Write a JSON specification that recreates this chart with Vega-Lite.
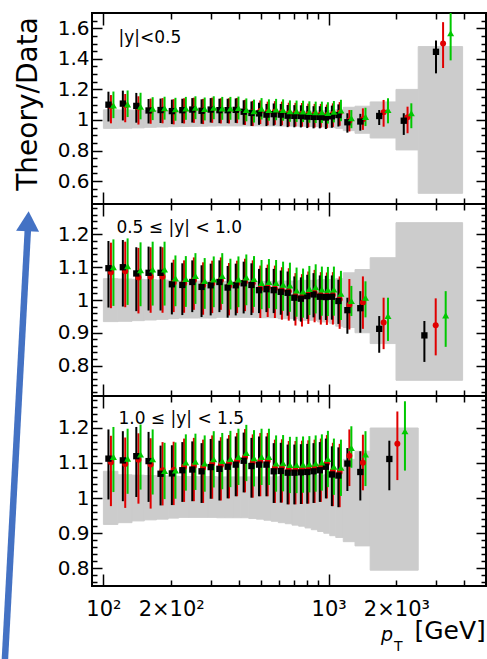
{
"$schema": "https://vega.github.io/schema/vega-lite/v6.json",
"background": "white",
"padding": {"left": 0, "top": 11, "right": 0, "bottom": 0},
"spacing": 0,
"bounds": "flush",
"resolve": {"scale": {"x": "independent", "y": "independent"}},
"config": {
  "view": {"stroke": "black", "strokeWidth": 2},
  "axis": {"domain": false, "grid": false, "tickColor": "black", "tickWidth": 1.5, "labelColor": "black", "labelFont": "DejaVu Sans", "labelFontSize": 20, "labelOverlap": false, "labelFlush": false, "labelBound": false, "zindex": 1},
  "text": {"font": "DejaVu Sans", "color": "black"}
},
"datasets": {
"bands": [
{"p":1,"lo":100,"hi":116,"bl":0.945,"bh":1.066},{"p":1,"lo":116,"hi":134,"bl":0.946,"bh":1.065},{"p":1,"lo":134,"hi":152,"bl":0.948,"bh":1.064},{"p":1,"lo":152,"hi":172,"bl":0.952,"bh":1.062},{"p":1,"lo":172,"hi":194,"bl":0.954,"bh":1.061},{"p":1,"lo":194,"hi":216,"bl":0.956,"bh":1.060},{"p":1,"lo":216,"hi":240,"bl":0.957,"bh":1.060},{"p":1,"lo":240,"hi":264,"bl":0.958,"bh":1.059},{"p":1,"lo":264,"hi":290,"bl":0.959,"bh":1.058},{"p":1,"lo":290,"hi":318,"bl":0.960,"bh":1.058},{"p":1,"lo":318,"hi":346,"bl":0.961,"bh":1.057},{"p":1,"lo":346,"hi":376,"bl":0.961,"bh":1.057},{"p":1,"lo":376,"hi":408,"bl":0.961,"bh":1.057},{"p":1,"lo":408,"hi":442,"bl":0.961,"bh":1.057},{"p":1,"lo":442,"hi":478,"bl":0.961,"bh":1.057},{"p":1,"lo":478,"hi":516,"bl":0.961,"bh":1.057},{"p":1,"lo":516,"hi":556,"bl":0.961,"bh":1.057},{"p":1,"lo":556,"hi":598,"bl":0.961,"bh":1.057},{"p":1,"lo":598,"hi":642,"bl":0.960,"bh":1.057},{"p":1,"lo":642,"hi":688,"bl":0.960,"bh":1.057},{"p":1,"lo":688,"hi":736,"bl":0.960,"bh":1.057},{"p":1,"lo":736,"hi":786,"bl":0.959,"bh":1.057},{"p":1,"lo":786,"hi":838,"bl":0.958,"bh":1.058},{"p":1,"lo":838,"hi":894,"bl":0.957,"bh":1.058},{"p":1,"lo":894,"hi":952,"bl":0.955,"bh":1.060},{"p":1,"lo":952,"hi":1012,"bl":0.953,"bh":1.061},{"p":1,"lo":1012,"hi":1076,"bl":0.950,"bh":1.063},{"p":1,"lo":1076,"hi":1162,"bl":0.945,"bh":1.067},{"p":1,"lo":1162,"hi":1310,"bl":0.930,"bh":1.083},{"p":1,"lo":1310,"hi":1530,"bl":0.913,"bh":1.090},{"p":1,"lo":1530,"hi":1992,"bl":0.882,"bh":1.118},{"p":1,"lo":1992,"hi":2500,"bl":0.804,"bh":1.200},{"p":1,"lo":2500,"hi":3937,"bl":0.520,"bh":1.480},
{"p":2,"lo":100,"hi":116,"bl":0.934,"bh":1.065},{"p":2,"lo":116,"hi":134,"bl":0.935,"bh":1.064},{"p":2,"lo":134,"hi":152,"bl":0.937,"bh":1.063},{"p":2,"lo":152,"hi":172,"bl":0.939,"bh":1.062},{"p":2,"lo":172,"hi":194,"bl":0.941,"bh":1.061},{"p":2,"lo":194,"hi":216,"bl":0.943,"bh":1.060},{"p":2,"lo":216,"hi":240,"bl":0.945,"bh":1.058},{"p":2,"lo":240,"hi":264,"bl":0.945,"bh":1.058},{"p":2,"lo":264,"hi":290,"bl":0.945,"bh":1.058},{"p":2,"lo":290,"hi":318,"bl":0.945,"bh":1.058},{"p":2,"lo":318,"hi":346,"bl":0.947,"bh":1.056},{"p":2,"lo":346,"hi":376,"bl":0.947,"bh":1.056},{"p":2,"lo":376,"hi":408,"bl":0.947,"bh":1.056},{"p":2,"lo":408,"hi":442,"bl":0.947,"bh":1.056},{"p":2,"lo":442,"hi":478,"bl":0.947,"bh":1.056},{"p":2,"lo":478,"hi":516,"bl":0.946,"bh":1.057},{"p":2,"lo":516,"hi":556,"bl":0.946,"bh":1.057},{"p":2,"lo":556,"hi":598,"bl":0.946,"bh":1.057},{"p":2,"lo":598,"hi":642,"bl":0.943,"bh":1.058},{"p":2,"lo":642,"hi":688,"bl":0.943,"bh":1.058},{"p":2,"lo":688,"hi":736,"bl":0.943,"bh":1.058},{"p":2,"lo":736,"hi":786,"bl":0.938,"bh":1.060},{"p":2,"lo":786,"hi":838,"bl":0.938,"bh":1.060},{"p":2,"lo":838,"hi":894,"bl":0.938,"bh":1.060},{"p":2,"lo":894,"hi":952,"bl":0.933,"bh":1.062},{"p":2,"lo":952,"hi":1012,"bl":0.933,"bh":1.062},{"p":2,"lo":1012,"hi":1076,"bl":0.928,"bh":1.063},{"p":2,"lo":1076,"hi":1162,"bl":0.920,"bh":1.065},{"p":2,"lo":1162,"hi":1310,"bl":0.916,"bh":1.083},{"p":2,"lo":1310,"hi":1530,"bl":0.900,"bh":1.093},{"p":2,"lo":1530,"hi":1992,"bl":0.867,"bh":1.129},{"p":2,"lo":1992,"hi":3937,"bl":0.755,"bh":1.236},
{"p":3,"lo":100,"hi":116,"bl":0.925,"bh":1.076},{"p":3,"lo":116,"hi":134,"bl":0.930,"bh":1.066},{"p":3,"lo":134,"hi":152,"bl":0.935,"bh":1.065},{"p":3,"lo":152,"hi":172,"bl":0.938,"bh":1.064},{"p":3,"lo":172,"hi":194,"bl":0.940,"bh":1.063},{"p":3,"lo":194,"hi":216,"bl":0.943,"bh":1.062},{"p":3,"lo":216,"hi":240,"bl":0.945,"bh":1.061},{"p":3,"lo":240,"hi":264,"bl":0.945,"bh":1.061},{"p":3,"lo":264,"hi":290,"bl":0.945,"bh":1.061},{"p":3,"lo":290,"hi":318,"bl":0.945,"bh":1.061},{"p":3,"lo":318,"hi":346,"bl":0.944,"bh":1.060},{"p":3,"lo":346,"hi":376,"bl":0.944,"bh":1.060},{"p":3,"lo":376,"hi":408,"bl":0.944,"bh":1.060},{"p":3,"lo":408,"hi":442,"bl":0.944,"bh":1.060},{"p":3,"lo":442,"hi":478,"bl":0.942,"bh":1.060},{"p":3,"lo":478,"hi":516,"bl":0.940,"bh":1.060},{"p":3,"lo":516,"hi":556,"bl":0.937,"bh":1.060},{"p":3,"lo":556,"hi":598,"bl":0.934,"bh":1.060},{"p":3,"lo":598,"hi":642,"bl":0.930,"bh":1.061},{"p":3,"lo":642,"hi":688,"bl":0.927,"bh":1.061},{"p":3,"lo":688,"hi":736,"bl":0.923,"bh":1.062},{"p":3,"lo":736,"hi":786,"bl":0.920,"bh":1.062},{"p":3,"lo":786,"hi":838,"bl":0.915,"bh":1.063},{"p":3,"lo":838,"hi":894,"bl":0.910,"bh":1.064},{"p":3,"lo":894,"hi":952,"bl":0.905,"bh":1.065},{"p":3,"lo":952,"hi":1012,"bl":0.900,"bh":1.066},{"p":3,"lo":1012,"hi":1076,"bl":0.893,"bh":1.067},{"p":3,"lo":1076,"hi":1162,"bl":0.888,"bh":1.070},{"p":3,"lo":1162,"hi":1310,"bl":0.876,"bh":1.110},{"p":3,"lo":1310,"hi":1530,"bl":0.864,"bh":1.133},{"p":3,"lo":1530,"hi":2500,"bl":0.795,"bh":1.199}
],
"pts": [
{"p":1,"s":"k","x":105.3,"v":1.100,"lo":0.990,"hi":1.185},{"p":1,"s":"k","x":122.0,"v":1.107,"lo":0.997,"hi":1.192},{"p":1,"s":"k","x":140.0,"v":1.092,"lo":0.982,"hi":1.177},{"p":1,"s":"k","x":158.7,"v":1.062,"lo":0.977,"hi":1.137},{"p":1,"s":"k","x":179.4,"v":1.065,"lo":0.980,"hi":1.140},{"p":1,"s":"k","x":201.4,"v":1.058,"lo":0.973,"hi":1.133},{"p":1,"s":"k","x":224.1,"v":1.064,"lo":0.979,"hi":1.139},{"p":1,"s":"k","x":248.1,"v":1.068,"lo":0.983,"hi":1.143},{"p":1,"s":"k","x":272.8,"v":1.060,"lo":0.975,"hi":1.135},{"p":1,"s":"k","x":299.5,"v":1.068,"lo":0.983,"hi":1.143},{"p":1,"s":"k","x":327.5,"v":1.064,"lo":0.979,"hi":1.139},{"p":1,"s":"k","x":356.2,"v":1.064,"lo":0.979,"hi":1.139},{"p":1,"s":"k","x":386.9,"v":1.066,"lo":0.981,"hi":1.141},{"p":1,"s":"k","x":419.6,"v":1.054,"lo":0.969,"hi":1.129},{"p":1,"s":"k","x":454.3,"v":1.046,"lo":0.961,"hi":1.121},{"p":1,"s":"k","x":491.0,"v":1.043,"lo":0.968,"hi":1.113},{"p":1,"s":"k","x":529.7,"v":1.035,"lo":0.960,"hi":1.105},{"p":1,"s":"k","x":570.4,"v":1.038,"lo":0.963,"hi":1.108},{"p":1,"s":"k","x":613.1,"v":1.035,"lo":0.960,"hi":1.105},{"p":1,"s":"k","x":657.7,"v":1.028,"lo":0.953,"hi":1.098},{"p":1,"s":"k","x":704.4,"v":1.027,"lo":0.952,"hi":1.097},{"p":1,"s":"k","x":753.1,"v":1.026,"lo":0.951,"hi":1.096},{"p":1,"s":"k","x":803.8,"v":1.022,"lo":0.947,"hi":1.092},{"p":1,"s":"k","x":857.2,"v":1.020,"lo":0.945,"hi":1.090},{"p":1,"s":"k","x":913.9,"v":1.020,"lo":0.945,"hi":1.090},{"p":1,"s":"k","x":972.6,"v":1.016,"lo":0.941,"hi":1.086},{"p":1,"s":"k","x":1034.0,"v":1.024,"lo":0.949,"hi":1.094},{"p":1,"s":"k","x":1105.4,"v":1.032,"lo":0.957,"hi":1.102},{"p":1,"s":"k","x":1211.8,"v":0.985,"lo":0.917,"hi":1.044},{"p":1,"s":"k","x":1383.1,"v":0.990,"lo":0.930,"hi":1.040},{"p":1,"s":"k","x":1678.0,"v":1.026,"lo":0.967,"hi":1.065},{"p":1,"s":"k","x":2156.8,"v":0.995,"lo":0.902,"hi":1.044},{"p":1,"s":"k","x":2998,"v":1.446,"lo":1.305,"hi":1.520},
{"p":1,"s":"r","x":108.0,"v":1.090,"lo":0.978,"hi":1.163},{"p":1,"s":"r","x":125.0,"v":1.097,"lo":0.985,"hi":1.170},{"p":1,"s":"r","x":143.1,"v":1.082,"lo":0.970,"hi":1.155},{"p":1,"s":"r","x":162.1,"v":1.065,"lo":0.975,"hi":1.140},{"p":1,"s":"r","x":183.1,"v":1.068,"lo":0.978,"hi":1.143},{"p":1,"s":"r","x":205.1,"v":1.061,"lo":0.971,"hi":1.136},{"p":1,"s":"r","x":228.2,"v":1.067,"lo":0.977,"hi":1.142},{"p":1,"s":"r","x":252.2,"v":1.071,"lo":0.981,"hi":1.146},{"p":1,"s":"r","x":277.2,"v":1.063,"lo":0.973,"hi":1.138},{"p":1,"s":"r","x":304.2,"v":1.071,"lo":0.981,"hi":1.146},{"p":1,"s":"r","x":332.3,"v":1.067,"lo":0.977,"hi":1.142},{"p":1,"s":"r","x":361.3,"v":1.067,"lo":0.977,"hi":1.142},{"p":1,"s":"r","x":392.3,"v":1.069,"lo":0.979,"hi":1.144},{"p":1,"s":"r","x":425.3,"v":1.057,"lo":0.967,"hi":1.132},{"p":1,"s":"r","x":460.4,"v":1.050,"lo":0.960,"hi":1.125},{"p":1,"s":"r","x":497.4,"v":1.058,"lo":0.973,"hi":1.128},{"p":1,"s":"r","x":536.4,"v":1.050,"lo":0.965,"hi":1.120},{"p":1,"s":"r","x":577.5,"v":1.053,"lo":0.968,"hi":1.123},{"p":1,"s":"r","x":620.5,"v":1.050,"lo":0.965,"hi":1.120},{"p":1,"s":"r","x":665.5,"v":1.043,"lo":0.958,"hi":1.113},{"p":1,"s":"r","x":712.6,"v":1.042,"lo":0.957,"hi":1.112},{"p":1,"s":"r","x":761.6,"v":1.041,"lo":0.956,"hi":1.111},{"p":1,"s":"r","x":812.7,"v":1.037,"lo":0.952,"hi":1.107},{"p":1,"s":"r","x":866.7,"v":1.035,"lo":0.950,"hi":1.105},{"p":1,"s":"r","x":923.7,"v":1.035,"lo":0.950,"hi":1.105},{"p":1,"s":"r","x":982.7,"v":1.031,"lo":0.946,"hi":1.101},{"p":1,"s":"r","x":1044.8,"v":1.039,"lo":0.954,"hi":1.109},{"p":1,"s":"r","x":1119.9,"v":1.047,"lo":0.962,"hi":1.117},{"p":1,"s":"r","x":1236.7,"v":0.995,"lo":0.925,"hi":1.065},{"p":1,"s":"r","x":1420.2,"v":1.005,"lo":0.935,"hi":1.076},{"p":1,"s":"r","x":1755.1,"v":1.050,"lo":0.956,"hi":1.131},{"p":1,"s":"r","x":2241.8,"v":1.017,"lo":0.913,"hi":1.087},{"p":1,"s":"r","x":3224,"v":1.500,"lo":1.340,"hi":1.640},
{"p":1,"s":"g","x":110.8,"v":1.095,"lo":1.012,"hi":1.186},{"p":1,"s":"g","x":128.1,"v":1.102,"lo":1.019,"hi":1.193},{"p":1,"s":"g","x":146.2,"v":1.087,"lo":1.004,"hi":1.178},{"p":1,"s":"g","x":165.5,"v":1.074,"lo":0.999,"hi":1.149},{"p":1,"s":"g","x":186.9,"v":1.077,"lo":1.002,"hi":1.152},{"p":1,"s":"g","x":208.9,"v":1.070,"lo":0.995,"hi":1.145},{"p":1,"s":"g","x":232.3,"v":1.076,"lo":1.001,"hi":1.151},{"p":1,"s":"g","x":256.3,"v":1.080,"lo":1.005,"hi":1.155},{"p":1,"s":"g","x":281.7,"v":1.072,"lo":0.997,"hi":1.147},{"p":1,"s":"g","x":309.0,"v":1.080,"lo":1.005,"hi":1.155},{"p":1,"s":"g","x":337.1,"v":1.076,"lo":1.001,"hi":1.151},{"p":1,"s":"g","x":366.4,"v":1.076,"lo":1.001,"hi":1.151},{"p":1,"s":"g","x":397.8,"v":1.078,"lo":1.003,"hi":1.153},{"p":1,"s":"g","x":431.2,"v":1.066,"lo":0.991,"hi":1.141},{"p":1,"s":"g","x":466.5,"v":1.058,"lo":0.983,"hi":1.133},{"p":1,"s":"g","x":503.9,"v":1.073,"lo":1.003,"hi":1.143},{"p":1,"s":"g","x":543.3,"v":1.065,"lo":0.995,"hi":1.135},{"p":1,"s":"g","x":584.6,"v":1.068,"lo":0.998,"hi":1.138},{"p":1,"s":"g","x":628.0,"v":1.065,"lo":0.995,"hi":1.135},{"p":1,"s":"g","x":673.4,"v":1.058,"lo":0.988,"hi":1.128},{"p":1,"s":"g","x":720.8,"v":1.057,"lo":0.987,"hi":1.127},{"p":1,"s":"g","x":770.2,"v":1.056,"lo":0.986,"hi":1.126},{"p":1,"s":"g","x":821.5,"v":1.052,"lo":0.982,"hi":1.122},{"p":1,"s":"g","x":876.3,"v":1.050,"lo":0.980,"hi":1.120},{"p":1,"s":"g","x":933.6,"v":1.050,"lo":0.980,"hi":1.120},{"p":1,"s":"g","x":993.0,"v":1.046,"lo":0.976,"hi":1.116},{"p":1,"s":"g","x":1055.7,"v":1.054,"lo":0.984,"hi":1.124},{"p":1,"s":"g","x":1134.6,"v":1.062,"lo":0.992,"hi":1.132},{"p":1,"s":"g","x":1262.2,"v":1.011,"lo":0.946,"hi":1.065},{"p":1,"s":"g","x":1458.2,"v":1.020,"lo":0.960,"hi":1.080},{"p":1,"s":"g","x":1835.5,"v":1.065,"lo":0.978,"hi":1.142},{"p":1,"s":"g","x":2330.1,"v":1.044,"lo":0.946,"hi":1.109},{"p":1,"s":"g","x":3483,"v":1.567,"lo":1.390,"hi":1.700},
{"p":2,"s":"k","x":105.3,"v":1.097,"lo":0.977,"hi":1.180},{"p":2,"s":"k","x":122.0,"v":1.100,"lo":0.980,"hi":1.183},{"p":2,"s":"k","x":140.0,"v":1.081,"lo":0.966,"hi":1.161},{"p":2,"s":"k","x":158.7,"v":1.083,"lo":0.968,"hi":1.163},{"p":2,"s":"k","x":179.4,"v":1.083,"lo":0.968,"hi":1.163},{"p":2,"s":"k","x":201.4,"v":1.048,"lo":0.956,"hi":1.114},{"p":2,"s":"k","x":224.1,"v":1.046,"lo":0.954,"hi":1.112},{"p":2,"s":"k","x":248.1,"v":1.055,"lo":0.963,"hi":1.121},{"p":2,"s":"k","x":272.8,"v":1.040,"lo":0.948,"hi":1.106},{"p":2,"s":"k","x":299.5,"v":1.045,"lo":0.953,"hi":1.111},{"p":2,"s":"k","x":327.5,"v":1.055,"lo":0.963,"hi":1.121},{"p":2,"s":"k","x":356.2,"v":1.038,"lo":0.946,"hi":1.104},{"p":2,"s":"k","x":386.9,"v":1.045,"lo":0.953,"hi":1.111},{"p":2,"s":"k","x":419.6,"v":1.051,"lo":0.959,"hi":1.117},{"p":2,"s":"k","x":454.3,"v":1.046,"lo":0.954,"hi":1.112},{"p":2,"s":"k","x":491.0,"v":1.030,"lo":0.960,"hi":1.095},{"p":2,"s":"k","x":529.7,"v":1.033,"lo":0.963,"hi":1.098},{"p":2,"s":"k","x":570.4,"v":1.030,"lo":0.960,"hi":1.095},{"p":2,"s":"k","x":613.1,"v":1.025,"lo":0.955,"hi":1.090},{"p":2,"s":"k","x":657.7,"v":1.022,"lo":0.952,"hi":1.087},{"p":2,"s":"k","x":704.4,"v":1.007,"lo":0.937,"hi":1.072},{"p":2,"s":"k","x":753.1,"v":1.004,"lo":0.934,"hi":1.069},{"p":2,"s":"k","x":803.8,"v":1.012,"lo":0.942,"hi":1.077},{"p":2,"s":"k","x":857.2,"v":1.017,"lo":0.947,"hi":1.082},{"p":2,"s":"k","x":913.9,"v":1.010,"lo":0.940,"hi":1.075},{"p":2,"s":"k","x":972.6,"v":1.009,"lo":0.939,"hi":1.074},{"p":2,"s":"k","x":1034.0,"v":1.010,"lo":0.940,"hi":1.075},{"p":2,"s":"k","x":1105.4,"v":0.997,"lo":0.927,"hi":1.062},{"p":2,"s":"k","x":1211.8,"v":0.969,"lo":0.897,"hi":1.007},{"p":2,"s":"k","x":1383.1,"v":0.975,"lo":0.900,"hi":1.027},{"p":2,"s":"k","x":1678.0,"v":0.912,"lo":0.839,"hi":0.951},{"p":2,"s":"k","x":2663,"v":0.892,"lo":0.811,"hi":0.936},
{"p":2,"s":"r","x":108.0,"v":1.085,"lo":0.975,"hi":1.175},{"p":2,"s":"r","x":125.0,"v":1.088,"lo":0.978,"hi":1.178},{"p":2,"s":"r","x":143.1,"v":1.069,"lo":0.959,"hi":1.159},{"p":2,"s":"r","x":162.1,"v":1.071,"lo":0.961,"hi":1.161},{"p":2,"s":"r","x":183.1,"v":1.071,"lo":0.961,"hi":1.161},{"p":2,"s":"r","x":205.1,"v":1.053,"lo":0.963,"hi":1.123},{"p":2,"s":"r","x":228.2,"v":1.051,"lo":0.961,"hi":1.121},{"p":2,"s":"r","x":252.2,"v":1.060,"lo":0.970,"hi":1.130},{"p":2,"s":"r","x":277.2,"v":1.045,"lo":0.955,"hi":1.115},{"p":2,"s":"r","x":304.2,"v":1.050,"lo":0.960,"hi":1.120},{"p":2,"s":"r","x":332.3,"v":1.060,"lo":0.970,"hi":1.130},{"p":2,"s":"r","x":361.3,"v":1.043,"lo":0.953,"hi":1.113},{"p":2,"s":"r","x":392.3,"v":1.050,"lo":0.960,"hi":1.120},{"p":2,"s":"r","x":425.3,"v":1.056,"lo":0.966,"hi":1.126},{"p":2,"s":"r","x":460.4,"v":1.051,"lo":0.961,"hi":1.121},{"p":2,"s":"r","x":497.4,"v":1.035,"lo":0.945,"hi":1.105},{"p":2,"s":"r","x":536.4,"v":1.038,"lo":0.948,"hi":1.108},{"p":2,"s":"r","x":577.5,"v":1.035,"lo":0.945,"hi":1.105},{"p":2,"s":"r","x":620.5,"v":1.030,"lo":0.940,"hi":1.100},{"p":2,"s":"r","x":665.5,"v":1.027,"lo":0.937,"hi":1.097},{"p":2,"s":"r","x":712.6,"v":1.012,"lo":0.922,"hi":1.082},{"p":2,"s":"r","x":761.6,"v":1.009,"lo":0.919,"hi":1.079},{"p":2,"s":"r","x":812.7,"v":1.017,"lo":0.927,"hi":1.087},{"p":2,"s":"r","x":866.7,"v":1.022,"lo":0.932,"hi":1.092},{"p":2,"s":"r","x":923.7,"v":1.015,"lo":0.925,"hi":1.085},{"p":2,"s":"r","x":982.7,"v":1.014,"lo":0.924,"hi":1.084},{"p":2,"s":"r","x":1044.8,"v":1.015,"lo":0.925,"hi":1.085},{"p":2,"s":"r","x":1119.9,"v":1.002,"lo":0.912,"hi":1.072},{"p":2,"s":"r","x":1236.7,"v":0.985,"lo":0.910,"hi":1.064},{"p":2,"s":"r","x":1420.2,"v":0.992,"lo":0.912,"hi":1.072},{"p":2,"s":"r","x":1755.1,"v":0.931,"lo":0.850,"hi":1.007},{"p":2,"s":"r","x":2990,"v":0.923,"lo":0.831,"hi":1.005},
{"p":2,"s":"g","x":110.8,"v":1.100,"lo":0.982,"hi":1.185},{"p":2,"s":"g","x":128.1,"v":1.103,"lo":0.985,"hi":1.188},{"p":2,"s":"g","x":146.2,"v":1.091,"lo":0.981,"hi":1.176},{"p":2,"s":"g","x":165.5,"v":1.093,"lo":0.983,"hi":1.178},{"p":2,"s":"g","x":186.9,"v":1.093,"lo":0.983,"hi":1.178},{"p":2,"s":"g","x":208.9,"v":1.066,"lo":0.981,"hi":1.136},{"p":2,"s":"g","x":232.3,"v":1.064,"lo":0.979,"hi":1.134},{"p":2,"s":"g","x":256.3,"v":1.073,"lo":0.988,"hi":1.143},{"p":2,"s":"g","x":281.7,"v":1.058,"lo":0.973,"hi":1.128},{"p":2,"s":"g","x":309.0,"v":1.063,"lo":0.978,"hi":1.133},{"p":2,"s":"g","x":337.1,"v":1.073,"lo":0.988,"hi":1.143},{"p":2,"s":"g","x":366.4,"v":1.056,"lo":0.971,"hi":1.126},{"p":2,"s":"g","x":397.8,"v":1.063,"lo":0.978,"hi":1.133},{"p":2,"s":"g","x":431.2,"v":1.069,"lo":0.984,"hi":1.139},{"p":2,"s":"g","x":466.5,"v":1.064,"lo":0.979,"hi":1.134},{"p":2,"s":"g","x":503.9,"v":1.052,"lo":0.972,"hi":1.122},{"p":2,"s":"g","x":543.3,"v":1.055,"lo":0.975,"hi":1.125},{"p":2,"s":"g","x":584.6,"v":1.052,"lo":0.972,"hi":1.122},{"p":2,"s":"g","x":628.0,"v":1.047,"lo":0.967,"hi":1.117},{"p":2,"s":"g","x":673.4,"v":1.044,"lo":0.964,"hi":1.114},{"p":2,"s":"g","x":720.8,"v":1.029,"lo":0.949,"hi":1.099},{"p":2,"s":"g","x":770.2,"v":1.026,"lo":0.946,"hi":1.096},{"p":2,"s":"g","x":821.5,"v":1.034,"lo":0.954,"hi":1.104},{"p":2,"s":"g","x":876.3,"v":1.039,"lo":0.959,"hi":1.109},{"p":2,"s":"g","x":933.6,"v":1.032,"lo":0.952,"hi":1.102},{"p":2,"s":"g","x":993.0,"v":1.031,"lo":0.951,"hi":1.101},{"p":2,"s":"g","x":1055.7,"v":1.032,"lo":0.952,"hi":1.102},{"p":2,"s":"g","x":1134.6,"v":1.019,"lo":0.939,"hi":1.089},{"p":2,"s":"g","x":1262.2,"v":0.997,"lo":0.951,"hi":1.043},{"p":2,"s":"g","x":1458.2,"v":1.007,"lo":0.947,"hi":1.057},{"p":2,"s":"g","x":1835.5,"v":0.951,"lo":0.875,"hi":1.007},{"p":2,"s":"g","x":3311,"v":0.953,"lo":0.857,"hi":1.027},
{"p":3,"s":"k","x":105.3,"v":1.112,"lo":0.996,"hi":1.195},{"p":3,"s":"k","x":122.0,"v":1.107,"lo":0.991,"hi":1.190},{"p":3,"s":"k","x":140.0,"v":1.119,"lo":1.003,"hi":1.202},{"p":3,"s":"k","x":158.7,"v":1.105,"lo":0.989,"hi":1.188},{"p":3,"s":"k","x":179.4,"v":1.069,"lo":0.979,"hi":1.149},{"p":3,"s":"k","x":201.4,"v":1.070,"lo":0.980,"hi":1.150},{"p":3,"s":"k","x":224.1,"v":1.079,"lo":0.989,"hi":1.159},{"p":3,"s":"k","x":248.1,"v":1.081,"lo":0.991,"hi":1.161},{"p":3,"s":"k","x":272.8,"v":1.076,"lo":0.986,"hi":1.156},{"p":3,"s":"k","x":299.5,"v":1.088,"lo":0.998,"hi":1.168},{"p":3,"s":"k","x":327.5,"v":1.083,"lo":0.993,"hi":1.163},{"p":3,"s":"k","x":356.2,"v":1.089,"lo":0.999,"hi":1.169},{"p":3,"s":"k","x":386.9,"v":1.095,"lo":1.005,"hi":1.175},{"p":3,"s":"k","x":419.6,"v":1.106,"lo":1.016,"hi":1.186},{"p":3,"s":"k","x":454.3,"v":1.091,"lo":1.001,"hi":1.171},{"p":3,"s":"k","x":491.0,"v":1.095,"lo":1.005,"hi":1.175},{"p":3,"s":"k","x":529.7,"v":1.095,"lo":1.005,"hi":1.175},{"p":3,"s":"k","x":570.4,"v":1.076,"lo":0.986,"hi":1.156},{"p":3,"s":"k","x":613.1,"v":1.077,"lo":0.987,"hi":1.157},{"p":3,"s":"k","x":657.7,"v":1.072,"lo":0.982,"hi":1.152},{"p":3,"s":"k","x":704.4,"v":1.072,"lo":0.982,"hi":1.152},{"p":3,"s":"k","x":753.1,"v":1.073,"lo":0.983,"hi":1.153},{"p":3,"s":"k","x":803.8,"v":1.074,"lo":0.984,"hi":1.154},{"p":3,"s":"k","x":857.2,"v":1.076,"lo":0.986,"hi":1.156},{"p":3,"s":"k","x":913.9,"v":1.079,"lo":0.989,"hi":1.159},{"p":3,"s":"k","x":972.6,"v":1.089,"lo":0.999,"hi":1.169},{"p":3,"s":"k","x":1034.0,"v":1.067,"lo":0.977,"hi":1.147},{"p":3,"s":"k","x":1105.4,"v":1.064,"lo":0.974,"hi":1.144},{"p":3,"s":"k","x":1211.8,"v":1.098,"lo":1.020,"hi":1.142},{"p":3,"s":"k","x":1383.1,"v":1.074,"lo":0.993,"hi":1.133},{"p":3,"s":"k","x":1861,"v":1.111,"lo":1.022,"hi":1.163},
{"p":3,"s":"r","x":108.0,"v":1.102,"lo":0.977,"hi":1.177},{"p":3,"s":"r","x":125.0,"v":1.097,"lo":0.972,"hi":1.172},{"p":3,"s":"r","x":143.1,"v":1.109,"lo":0.984,"hi":1.184},{"p":3,"s":"r","x":162.1,"v":1.095,"lo":0.970,"hi":1.170},{"p":3,"s":"r","x":183.1,"v":1.079,"lo":0.979,"hi":1.159},{"p":3,"s":"r","x":205.1,"v":1.080,"lo":0.980,"hi":1.160},{"p":3,"s":"r","x":228.2,"v":1.089,"lo":0.989,"hi":1.169},{"p":3,"s":"r","x":252.2,"v":1.091,"lo":0.991,"hi":1.171},{"p":3,"s":"r","x":277.2,"v":1.086,"lo":0.986,"hi":1.166},{"p":3,"s":"r","x":304.2,"v":1.098,"lo":0.998,"hi":1.178},{"p":3,"s":"r","x":332.3,"v":1.093,"lo":0.993,"hi":1.173},{"p":3,"s":"r","x":361.3,"v":1.099,"lo":0.999,"hi":1.179},{"p":3,"s":"r","x":392.3,"v":1.105,"lo":1.005,"hi":1.185},{"p":3,"s":"r","x":425.3,"v":1.116,"lo":1.016,"hi":1.196},{"p":3,"s":"r","x":460.4,"v":1.101,"lo":1.001,"hi":1.181},{"p":3,"s":"r","x":497.4,"v":1.105,"lo":1.005,"hi":1.185},{"p":3,"s":"r","x":536.4,"v":1.105,"lo":1.005,"hi":1.185},{"p":3,"s":"r","x":577.5,"v":1.086,"lo":0.986,"hi":1.166},{"p":3,"s":"r","x":620.5,"v":1.087,"lo":0.987,"hi":1.167},{"p":3,"s":"r","x":665.5,"v":1.082,"lo":0.982,"hi":1.162},{"p":3,"s":"r","x":712.6,"v":1.082,"lo":0.982,"hi":1.162},{"p":3,"s":"r","x":761.6,"v":1.083,"lo":0.983,"hi":1.163},{"p":3,"s":"r","x":812.7,"v":1.084,"lo":0.984,"hi":1.164},{"p":3,"s":"r","x":866.7,"v":1.086,"lo":0.986,"hi":1.166},{"p":3,"s":"r","x":923.7,"v":1.089,"lo":0.989,"hi":1.169},{"p":3,"s":"r","x":982.7,"v":1.099,"lo":0.999,"hi":1.179},{"p":3,"s":"r","x":1044.8,"v":1.077,"lo":0.977,"hi":1.157},{"p":3,"s":"r","x":1119.9,"v":1.074,"lo":0.974,"hi":1.154},{"p":3,"s":"r","x":1236.7,"v":1.120,"lo":1.034,"hi":1.195},{"p":3,"s":"r","x":1420.2,"v":1.100,"lo":1.022,"hi":1.180},{"p":3,"s":"r","x":2020,"v":1.154,"lo":1.051,"hi":1.246},
{"p":3,"s":"g","x":110.8,"v":1.117,"lo":1.017,"hi":1.202},{"p":3,"s":"g","x":128.1,"v":1.112,"lo":1.012,"hi":1.197},{"p":3,"s":"g","x":146.2,"v":1.124,"lo":1.024,"hi":1.209},{"p":3,"s":"g","x":165.5,"v":1.110,"lo":1.010,"hi":1.195},{"p":3,"s":"g","x":186.9,"v":1.077,"lo":0.997,"hi":1.157},{"p":3,"s":"g","x":208.9,"v":1.078,"lo":0.998,"hi":1.158},{"p":3,"s":"g","x":232.3,"v":1.101,"lo":1.021,"hi":1.181},{"p":3,"s":"g","x":256.3,"v":1.103,"lo":1.023,"hi":1.183},{"p":3,"s":"g","x":281.7,"v":1.098,"lo":1.018,"hi":1.178},{"p":3,"s":"g","x":309.0,"v":1.110,"lo":1.030,"hi":1.190},{"p":3,"s":"g","x":337.1,"v":1.105,"lo":1.025,"hi":1.185},{"p":3,"s":"g","x":366.4,"v":1.111,"lo":1.031,"hi":1.191},{"p":3,"s":"g","x":397.8,"v":1.117,"lo":1.037,"hi":1.197},{"p":3,"s":"g","x":431.2,"v":1.128,"lo":1.048,"hi":1.208},{"p":3,"s":"g","x":466.5,"v":1.113,"lo":1.033,"hi":1.193},{"p":3,"s":"g","x":503.9,"v":1.117,"lo":1.037,"hi":1.197},{"p":3,"s":"g","x":543.3,"v":1.117,"lo":1.037,"hi":1.197},{"p":3,"s":"g","x":584.6,"v":1.098,"lo":1.018,"hi":1.178},{"p":3,"s":"g","x":628.0,"v":1.099,"lo":1.019,"hi":1.179},{"p":3,"s":"g","x":673.4,"v":1.094,"lo":1.014,"hi":1.174},{"p":3,"s":"g","x":720.8,"v":1.094,"lo":1.014,"hi":1.174},{"p":3,"s":"g","x":770.2,"v":1.095,"lo":1.015,"hi":1.175},{"p":3,"s":"g","x":821.5,"v":1.096,"lo":1.016,"hi":1.176},{"p":3,"s":"g","x":876.3,"v":1.098,"lo":1.018,"hi":1.178},{"p":3,"s":"g","x":933.6,"v":1.101,"lo":1.021,"hi":1.181},{"p":3,"s":"g","x":993.0,"v":1.111,"lo":1.031,"hi":1.191},{"p":3,"s":"g","x":1055.7,"v":1.089,"lo":1.009,"hi":1.169},{"p":3,"s":"g","x":1134.6,"v":1.086,"lo":1.006,"hi":1.166},{"p":3,"s":"g","x":1262.2,"v":1.142,"lo":1.086,"hi":1.204},{"p":3,"s":"g","x":1458.2,"v":1.124,"lo":1.034,"hi":1.190},{"p":3,"s":"g","x":2183,"v":1.190,"lo":1.078,"hi":1.275}
]
},
"vconcat": [
{
 "width": 394, "height": 191,
 "resolve": {"axis": {"x": "independent", "y": "independent"}},
 "layer": [
  {"data": {"name": "bands"}, "transform": [{"filter": "datum.p == 1"}],
   "mark": {"type": "rect", "color": "#cccccc", "stroke": "#cccccc", "strokeWidth": 1},
   "encoding": {
    "x": {"field": "lo", "type": "quantitative", "scale": {"type": "log", "domain": [89, 5000], "nice": false}, "axis": null},
    "x2": {"field": "hi"},
    "y": {"field": "bl", "type": "quantitative", "scale": {"domain": [0.45, 1.7], "nice": false, "zero": false},
          "axis": {"orient": "left", "values": [0.6,0.8,1,1.2,1.4,1.6], "ticks": false, "labelPadding": 3, "labelExpr": "datum.value == 1 ? '1' : format(datum.value, '.1f')", "title": "Theory/Data", "titleFont": "DejaVu Sans", "titleFontSize": 28, "titleFontWeight": "normal", "titleColor": "black", "titleX": -56, "titleY": 90.5, "titleAngle": -90, "titleAlign": "center", "titleBaseline": "alphabetic"}},
    "y2": {"field": "bh"}
   }},
  {"data": {"name": "bands"}, "transform": [{"filter": "datum.p == 1"}],
   "mark": {"type": "rect", "opacity": 0},
   "encoding": {
    "x": {"field": "lo", "type": "quantitative", "axis": {"orient": "bottom", "values": [100,200,300,400,500,600,700,800,900,1000,2000,3000,4000], "labels": false, "title": null, "tickSize": {"condition": {"test": "datum.value == 100 || datum.value == 1000", "value": -12}, "value": -6}}},
    "x2": {"field": "hi"},
    "y": {"field": "bl", "type": "quantitative", "axis": {"orient": "left", "values": [0.5,0.55,0.6,0.65,0.7,0.75,0.8,0.85,0.9,0.95,1,1.05,1.1,1.15,1.2,1.25,1.3,1.35,1.4,1.45,1.5,1.55,1.6,1.65], "labels": false, "title": null, "tickSize": {"condition": {"test": "indexof([0.6,0.8,1,1.2,1.4,1.6], datum.value) >= 0", "value": -10}, "value": -5}}},
    "y2": {"field": "bh"}
   }},
  {"data": {"name": "bands"}, "transform": [{"filter": "datum.p == 1"}],
   "mark": {"type": "rect", "opacity": 0},
   "encoding": {
    "x": {"field": "lo", "type": "quantitative", "axis": {"orient": "top", "values": [100,200,300,400,500,600,700,800,900,1000,2000,3000,4000], "labels": false, "title": null, "tickSize": {"condition": {"test": "datum.value == 100 || datum.value == 1000", "value": -12}, "value": -6}}},
    "x2": {"field": "hi"},
    "y": {"field": "bl", "type": "quantitative", "axis": {"orient": "right", "values": [0.5,0.55,0.6,0.65,0.7,0.75,0.8,0.85,0.9,0.95,1,1.05,1.1,1.15,1.2,1.25,1.3,1.35,1.4,1.45,1.5,1.55,1.6,1.65], "labels": false, "title": null, "tickSize": {"condition": {"test": "indexof([0.6,0.8,1,1.2,1.4,1.6], datum.value) >= 0", "value": -10}, "value": -5}}},
    "y2": {"field": "bh"}
   }},
  {"data": {"name": "pts"}, "transform": [{"filter": "datum.p == 1 && datum.s == 'r'"}], "mark": {"type": "rule", "color": "#e00000", "strokeWidth": 2},
   "encoding": {"x": {"field": "x", "type": "quantitative", "axis": null}, "y": {"field": "lo", "type": "quantitative", "axis": null}, "y2": {"field": "hi"}}},
  {"data": {"name": "pts"}, "transform": [{"filter": "datum.p == 1 && datum.s == 'k'"}], "mark": {"type": "rule", "color": "black", "strokeWidth": 2},
   "encoding": {"x": {"field": "x", "type": "quantitative", "axis": null}, "y": {"field": "lo", "type": "quantitative", "axis": null}, "y2": {"field": "hi"}}},
  {"data": {"name": "pts"}, "transform": [{"filter": "datum.p == 1 && datum.s == 'g'"}], "mark": {"type": "rule", "color": "#00c800", "strokeWidth": 2},
   "encoding": {"x": {"field": "x", "type": "quantitative", "axis": null}, "y": {"field": "lo", "type": "quantitative", "axis": null}, "y2": {"field": "hi"}}},
  {"data": {"name": "pts"}, "transform": [{"filter": "datum.p == 1 && datum.s == 'r'"}], "mark": {"type": "point", "shape": "circle", "filled": true, "opacity": 1, "size": 36, "color": "#e00000"},
   "encoding": {"x": {"field": "x", "type": "quantitative", "axis": null}, "y": {"field": "v", "type": "quantitative", "axis": null}}},
  {"data": {"name": "pts"}, "transform": [{"filter": "datum.p == 1 && datum.s == 'k'"}], "mark": {"type": "point", "shape": "square", "filled": true, "opacity": 1, "size": 40, "color": "black"},
   "encoding": {"x": {"field": "x", "type": "quantitative", "axis": null}, "y": {"field": "v", "type": "quantitative", "axis": null}}},
  {"data": {"name": "pts"}, "transform": [{"filter": "datum.p == 1 && datum.s == 'g'"}], "mark": {"type": "point", "shape": "triangle-up", "filled": true, "opacity": 1, "size": 49, "color": "#00c800"},
   "encoding": {"x": {"field": "x", "type": "quantitative", "axis": null}, "y": {"field": "v", "type": "quantitative", "axis": null}}},
  {"data": {"values": [{"t": "|y|<0.5"}]}, "mark": {"type": "text", "align": "left", "baseline": "alphabetic", "fontSize": 17},
   "encoding": {"text": {"field": "t"}, "x": {"datum": 116.6, "type": "quantitative", "axis": null}, "y": {"datum": 1.504, "type": "quantitative", "axis": null}}}
 ]
},
{
 "width": 394, "height": 192,
 "resolve": {"axis": {"x": "independent", "y": "independent"}},
 "layer": [
  {"data": {"name": "bands"}, "transform": [{"filter": "datum.p == 2"}],
   "mark": {"type": "rect", "color": "#cccccc", "stroke": "#cccccc", "strokeWidth": 1},
   "encoding": {
    "x": {"field": "lo", "type": "quantitative", "scale": {"type": "log", "domain": [89, 5000], "nice": false}, "axis": null},
    "x2": {"field": "hi"},
    "y": {"field": "bl", "type": "quantitative", "scale": {"domain": [0.707, 1.293], "nice": false, "zero": false},
          "axis": {"orient": "left", "values": [0.8,0.9,1,1.1,1.2], "ticks": false, "labelPadding": 3, "labelExpr": "datum.value == 1 ? '1' : format(datum.value, '.1f')", "title": null}},
    "y2": {"field": "bh"}
   }},
  {"data": {"name": "bands"}, "transform": [{"filter": "datum.p == 2"}],
   "mark": {"type": "rect", "opacity": 0},
   "encoding": {
    "x": {"field": "lo", "type": "quantitative", "axis": {"orient": "bottom", "values": [100,200,300,400,500,600,700,800,900,1000,2000,3000,4000], "labels": false, "title": null, "tickSize": {"condition": {"test": "datum.value == 100 || datum.value == 1000", "value": -12}, "value": -6}}},
    "x2": {"field": "hi"},
    "y": {"field": "bl", "type": "quantitative", "axis": {"orient": "left", "values": [0.72,0.74,0.76,0.78,0.8,0.82,0.84,0.86,0.88,0.9,0.92,0.94,0.96,0.98,1,1.02,1.04,1.06,1.08,1.1,1.12,1.14,1.16,1.18,1.2,1.22,1.24,1.26,1.28], "labels": false, "title": null, "tickSize": {"condition": {"test": "indexof([0.8,0.9,1,1.1,1.2], datum.value) >= 0", "value": -10}, "value": -5}}},
    "y2": {"field": "bh"}
   }},
  {"data": {"name": "bands"}, "transform": [{"filter": "datum.p == 2"}],
   "mark": {"type": "rect", "opacity": 0},
   "encoding": {
    "x": {"field": "lo", "type": "quantitative", "axis": {"orient": "top", "values": [100,200,300,400,500,600,700,800,900,1000,2000,3000,4000], "labels": false, "title": null, "tickSize": {"condition": {"test": "datum.value == 100 || datum.value == 1000", "value": -12}, "value": -6}}},
    "x2": {"field": "hi"},
    "y": {"field": "bl", "type": "quantitative", "axis": {"orient": "right", "values": [0.72,0.74,0.76,0.78,0.8,0.82,0.84,0.86,0.88,0.9,0.92,0.94,0.96,0.98,1,1.02,1.04,1.06,1.08,1.1,1.12,1.14,1.16,1.18,1.2,1.22,1.24,1.26,1.28], "labels": false, "title": null, "tickSize": {"condition": {"test": "indexof([0.8,0.9,1,1.1,1.2], datum.value) >= 0", "value": -10}, "value": -5}}},
    "y2": {"field": "bh"}
   }},
  {"data": {"name": "pts"}, "transform": [{"filter": "datum.p == 2 && datum.s == 'r'"}], "mark": {"type": "rule", "color": "#e00000", "strokeWidth": 2},
   "encoding": {"x": {"field": "x", "type": "quantitative", "axis": null}, "y": {"field": "lo", "type": "quantitative", "axis": null}, "y2": {"field": "hi"}}},
  {"data": {"name": "pts"}, "transform": [{"filter": "datum.p == 2 && datum.s == 'k'"}], "mark": {"type": "rule", "color": "black", "strokeWidth": 2},
   "encoding": {"x": {"field": "x", "type": "quantitative", "axis": null}, "y": {"field": "lo", "type": "quantitative", "axis": null}, "y2": {"field": "hi"}}},
  {"data": {"name": "pts"}, "transform": [{"filter": "datum.p == 2 && datum.s == 'g'"}], "mark": {"type": "rule", "color": "#00c800", "strokeWidth": 2},
   "encoding": {"x": {"field": "x", "type": "quantitative", "axis": null}, "y": {"field": "lo", "type": "quantitative", "axis": null}, "y2": {"field": "hi"}}},
  {"data": {"name": "pts"}, "transform": [{"filter": "datum.p == 2 && datum.s == 'r'"}], "mark": {"type": "point", "shape": "circle", "filled": true, "opacity": 1, "size": 36, "color": "#e00000"},
   "encoding": {"x": {"field": "x", "type": "quantitative", "axis": null}, "y": {"field": "v", "type": "quantitative", "axis": null}}},
  {"data": {"name": "pts"}, "transform": [{"filter": "datum.p == 2 && datum.s == 'k'"}], "mark": {"type": "point", "shape": "square", "filled": true, "opacity": 1, "size": 40, "color": "black"},
   "encoding": {"x": {"field": "x", "type": "quantitative", "axis": null}, "y": {"field": "v", "type": "quantitative", "axis": null}}},
  {"data": {"name": "pts"}, "transform": [{"filter": "datum.p == 2 && datum.s == 'g'"}], "mark": {"type": "point", "shape": "triangle-up", "filled": true, "opacity": 1, "size": 49, "color": "#00c800"},
   "encoding": {"x": {"field": "x", "type": "quantitative", "axis": null}, "y": {"field": "v", "type": "quantitative", "axis": null}}},
  {"data": {"values": [{"t": "0.5 ≤ |y| < 1.0"}]}, "mark": {"type": "text", "align": "left", "baseline": "alphabetic", "fontSize": 17},
   "encoding": {"text": {"field": "t"}, "x": {"datum": 114.2, "type": "quantitative", "axis": null}, "y": {"datum": 1.205, "type": "quantitative", "axis": null}}}
 ]
},
{
 "width": 394, "height": 190,
 "resolve": {"axis": {"x": "independent", "y": "independent"}},
 "layer": [
  {"data": {"name": "bands"}, "transform": [{"filter": "datum.p == 3"}],
   "mark": {"type": "rect", "color": "#cccccc", "stroke": "#cccccc", "strokeWidth": 1},
   "encoding": {
    "x": {"field": "lo", "type": "quantitative", "scale": {"type": "log", "domain": [89, 5000], "nice": false},
          "axis": {"orient": "bottom", "values": [100,200,1000,2000], "ticks": false, "labelPadding": 29, "labelBaseline": "alphabetic", "labelFontSize": 21, "labelExpr": "datum.value == 100 ? '10²' : datum.value == 200 ? '2×10²' : datum.value == 1000 ? '10³' : '2×10³'", "title": null}},
    "x2": {"field": "hi"},
    "y": {"field": "bl", "type": "quantitative", "scale": {"domain": [0.75, 1.29], "nice": false, "zero": false},
          "axis": {"orient": "left", "values": [0.8,0.9,1,1.1,1.2], "ticks": false, "labelPadding": 3, "labelExpr": "datum.value == 1 ? '1' : format(datum.value, '.1f')", "title": null}},
    "y2": {"field": "bh"}
   }},
  {"data": {"name": "bands"}, "transform": [{"filter": "datum.p == 3"}],
   "mark": {"type": "rect", "opacity": 0},
   "encoding": {
    "x": {"field": "lo", "type": "quantitative", "axis": {"orient": "bottom", "values": [100,200,300,400,500,600,700,800,900,1000,2000,3000,4000], "labels": false, "title": null, "tickSize": {"condition": {"test": "datum.value == 100 || datum.value == 1000", "value": -12}, "value": -6}}},
    "x2": {"field": "hi"},
    "y": {"field": "bl", "type": "quantitative", "axis": {"orient": "left", "values": [0.76,0.78,0.8,0.82,0.84,0.86,0.88,0.9,0.92,0.94,0.96,0.98,1,1.02,1.04,1.06,1.08,1.1,1.12,1.14,1.16,1.18,1.2,1.22,1.24,1.26,1.28], "labels": false, "title": null, "tickSize": {"condition": {"test": "indexof([0.8,0.9,1,1.1,1.2], datum.value) >= 0", "value": -10}, "value": -5}}},
    "y2": {"field": "bh"}
   }},
  {"data": {"name": "bands"}, "transform": [{"filter": "datum.p == 3"}],
   "mark": {"type": "rect", "opacity": 0},
   "encoding": {
    "x": {"field": "lo", "type": "quantitative", "axis": {"orient": "top", "values": [100,200,300,400,500,600,700,800,900,1000,2000,3000,4000], "labels": false, "title": null, "tickSize": {"condition": {"test": "datum.value == 100 || datum.value == 1000", "value": -12}, "value": -6}}},
    "x2": {"field": "hi"},
    "y": {"field": "bl", "type": "quantitative", "axis": {"orient": "right", "values": [0.76,0.78,0.8,0.82,0.84,0.86,0.88,0.9,0.92,0.94,0.96,0.98,1,1.02,1.04,1.06,1.08,1.1,1.12,1.14,1.16,1.18,1.2,1.22,1.24,1.26,1.28], "labels": false, "title": null, "tickSize": {"condition": {"test": "indexof([0.8,0.9,1,1.1,1.2], datum.value) >= 0", "value": -10}, "value": -5}}},
    "y2": {"field": "bh"}
   }},
  {"data": {"name": "pts"}, "transform": [{"filter": "datum.p == 3 && datum.s == 'r'"}], "mark": {"type": "rule", "color": "#e00000", "strokeWidth": 2},
   "encoding": {"x": {"field": "x", "type": "quantitative", "axis": null}, "y": {"field": "lo", "type": "quantitative", "axis": null}, "y2": {"field": "hi"}}},
  {"data": {"name": "pts"}, "transform": [{"filter": "datum.p == 3 && datum.s == 'k'"}], "mark": {"type": "rule", "color": "black", "strokeWidth": 2},
   "encoding": {"x": {"field": "x", "type": "quantitative", "axis": null}, "y": {"field": "lo", "type": "quantitative", "axis": null}, "y2": {"field": "hi"}}},
  {"data": {"name": "pts"}, "transform": [{"filter": "datum.p == 3 && datum.s == 'g'"}], "mark": {"type": "rule", "color": "#00c800", "strokeWidth": 2},
   "encoding": {"x": {"field": "x", "type": "quantitative", "axis": null}, "y": {"field": "lo", "type": "quantitative", "axis": null}, "y2": {"field": "hi"}}},
  {"data": {"name": "pts"}, "transform": [{"filter": "datum.p == 3 && datum.s == 'r'"}], "mark": {"type": "point", "shape": "circle", "filled": true, "opacity": 1, "size": 36, "color": "#e00000"},
   "encoding": {"x": {"field": "x", "type": "quantitative", "axis": null}, "y": {"field": "v", "type": "quantitative", "axis": null}}},
  {"data": {"name": "pts"}, "transform": [{"filter": "datum.p == 3 && datum.s == 'k'"}], "mark": {"type": "point", "shape": "square", "filled": true, "opacity": 1, "size": 40, "color": "black"},
   "encoding": {"x": {"field": "x", "type": "quantitative", "axis": null}, "y": {"field": "v", "type": "quantitative", "axis": null}}},
  {"data": {"name": "pts"}, "transform": [{"filter": "datum.p == 3 && datum.s == 'g'"}], "mark": {"type": "point", "shape": "triangle-up", "filled": true, "opacity": 1, "size": 49, "color": "#00c800"},
   "encoding": {"x": {"field": "x", "type": "quantitative", "axis": null}, "y": {"field": "v", "type": "quantitative", "axis": null}}},
  {"data": {"values": [{"t": "1.0 ≤ |y| < 1.5"}]}, "mark": {"type": "text", "align": "left", "baseline": "alphabetic", "fontSize": 17},
   "encoding": {"text": {"field": "t"}, "x": {"datum": 116.6, "type": "quantitative", "axis": null}, "y": {"datum": 1.211, "type": "quantitative", "axis": null}}},
  {"data": {"values": [{"t": "p"}]}, "mark": {"type": "text", "align": "left", "baseline": "alphabetic", "fontSize": 19, "fontStyle": "italic", "clip": false},
   "encoding": {"text": {"field": "t"}, "x": {"datum": 1709, "type": "quantitative", "axis": null}, "y": {"datum": 0.5938, "type": "quantitative", "axis": null}}},
  {"data": {"values": [{"t": "T"}]}, "mark": {"type": "text", "align": "left", "baseline": "alphabetic", "fontSize": 14, "clip": false},
   "encoding": {"text": {"field": "t"}, "x": {"datum": 1950, "type": "quantitative", "axis": null}, "y": {"datum": 0.5654, "type": "quantitative", "axis": null}}},
  {"data": {"values": [{"t": "[GeV]"}]}, "mark": {"type": "text", "align": "right", "baseline": "alphabetic", "fontSize": 25, "clip": false},
   "encoding": {"text": {"field": "t"}, "x": {"datum": 4990, "type": "quantitative", "axis": null}, "y": {"datum": 0.6003, "type": "quantitative", "axis": null}}},
  {"data": {"values": [{"t": "arrow"}]}, "mark": {"type": "rule", "color": "#4472c4", "strokeWidth": 6.5, "clip": false},
   "encoding": {"x": {"datum": 36.4, "type": "quantitative", "axis": null}, "y": {"datum": 0.523, "type": "quantitative", "axis": null}, "x2": {"datum": 46.2}, "y2": {"datum": 1.7646}}},
  {"data": {"values": [{"t": "arrow"}]}, "mark": {"type": "point", "shape": "triangle-up", "filled": true, "opacity": 1, "size": 529, "angle": 3, "color": "#4472c4", "clip": false},
   "encoding": {"x": {"datum": 46.3, "type": "quantitative", "axis": null}, "y": {"datum": 1.7865, "type": "quantitative", "axis": null}}}
 ]
}
]
}
